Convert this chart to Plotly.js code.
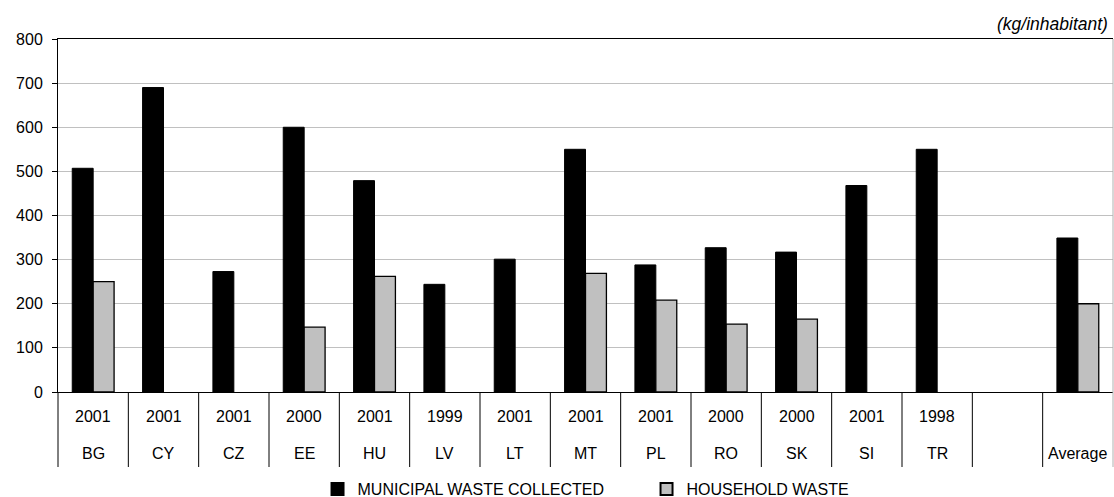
<!DOCTYPE html>
<html>
<head>
<meta charset="utf-8">
<script src="https://cdn.plot.ly/plotly-3.0.1.min.js"></script>
<style>
  html, body { margin: 0; padding: 0; background: #fff; }
  #chart { width: 1114px; height: 497px; }
</style>
</head>
<body>
<div id="chart"></div>
<script>
const countries = ['BG', 'CY', 'CZ', 'EE', 'HU', 'LV', 'LT', 'MT', 'PL', 'RO', 'SK', 'SI', 'TR', '', 'Average'];
const years = ['2001', '2001', '2001', '2000', '2001', '1999', '2001', '2001', '2001', '2000', '2000', '2001', '1998', '', ''];
const municipalWaste = [507, 690, 273, 600, 479, 244, 301, 550, 288, 327, 317, 468, 550, null, 349];
const householdWaste = [250, null, null, 147, 262, null, null, 269, 208, 154, 165, null, null, null, 200];
const seriesNames = ['MUNICIPAL WASTE COLLECTED', 'HOUSEHOLD WASTE'];
const unitLabel = '(kg/inhabitant)';

const FONT = 'Liberation Sans, Arial, sans-serif';
const idx = countries.map((_, i) => i);

const traces = [
  {
    type: 'bar', name: seriesNames[0], x: idx, y: municipalWaste,
    marker: { color: '#000000', line: { color: '#000000', width: 1 } },
    hoverinfo: 'y'
  },
  {
    type: 'bar', name: seriesNames[1], x: idx, y: householdWaste,
    marker: { color: '#c0c0c0', line: { color: '#000000', width: 1.3 } },
    hoverinfo: 'y'
  }
];

const tableBottom = -75 / 353;
const shapes = [];
// vertical separators of the category table
for (let i = 0; i < countries.length - 1; i++) {
  shapes.push({ type: 'line', xref: 'x', yref: 'paper', x0: i + 0.5, x1: i + 0.5, y0: tableBottom, y1: 0,
    line: { color: '#000000', width: 1 } });
}
// left axis continuation through the table
shapes.push({ type: 'line', xref: 'paper', yref: 'paper', x0: 0, x1: 0, y0: tableBottom, y1: 0,
  line: { color: '#000000', width: 1 } });
// right border (light grey)
shapes.push({ type: 'line', xref: 'paper', yref: 'paper', x0: 1, x1: 1, y0: tableBottom, y1: 1,
  line: { color: '#b0b0b0', width: 1 } });

const annotations = [];
idx.forEach(i => {
  if (years[i]) annotations.push({ x: i, y: -0.070, xref: 'x', yref: 'paper', text: years[i], showarrow: false,
    xanchor: 'center', yanchor: 'middle', font: { family: FONT, size: 16, color: '#000' } });
  if (countries[i]) annotations.push({ x: i, y: -0.1756, xref: 'x', yref: 'paper', text: countries[i], showarrow: false,
    xanchor: 'center', yanchor: 'middle', font: { family: FONT, size: 16, color: '#000' } });
});
annotations.push({ x: 1, y: 1, xref: 'paper', yref: 'paper', text: '<i>' + unitLabel + '</i>', showarrow: false,
  xanchor: 'right', yanchor: 'bottom', xshift: -3, yshift: 3, font: { family: FONT, size: 17.5, color: '#000' } });

const layout = {
  width: 1114, height: 497,
  margin: { l: 58, r: 1, t: 39, b: 105, autoexpand: false },
  paper_bgcolor: '#ffffff', plot_bgcolor: '#ffffff',
  font: { family: FONT, size: 16, color: '#000' },
  barmode: 'group', bargap: 0.405, bargroupgap: 0,
  showlegend: true,
  legend: {
    orientation: 'h', x: 0.246, xanchor: 'left', xref: 'paper',
    y: 0.016, yanchor: 'middle', yref: 'container',
    font: { family: FONT, size: 16, color: '#000' },
    entrywidth: 284, entrywidthmode: 'pixels',
    itemsizing: 'constant', bgcolor: 'rgba(0,0,0,0)'
  },
  xaxis: {
    type: 'linear', range: [-0.5, countries.length - 0.5],
    showticklabels: false, showgrid: false, zeroline: false, ticks: '',
    showline: true, linecolor: '#000000', linewidth: 1, mirror: true, fixedrange: true
  },
  yaxis: {
    range: [0, 800], dtick: 100, tick0: 0,
    showgrid: true, gridcolor: '#c0c0c0', gridwidth: 1,
    zeroline: false, showline: true, linecolor: '#000000', linewidth: 1,
    ticks: 'outside', ticklen: 5, tickcolor: '#000000', ticklabelstandoff: 6,
    tickfont: { family: FONT, size: 16, color: '#000' }, fixedrange: true
  },
  shapes: shapes,
  annotations: annotations
};

Plotly.newPlot('chart', traces, layout, { displayModeBar: false, staticPlot: true });
</script>
</body>
</html>
